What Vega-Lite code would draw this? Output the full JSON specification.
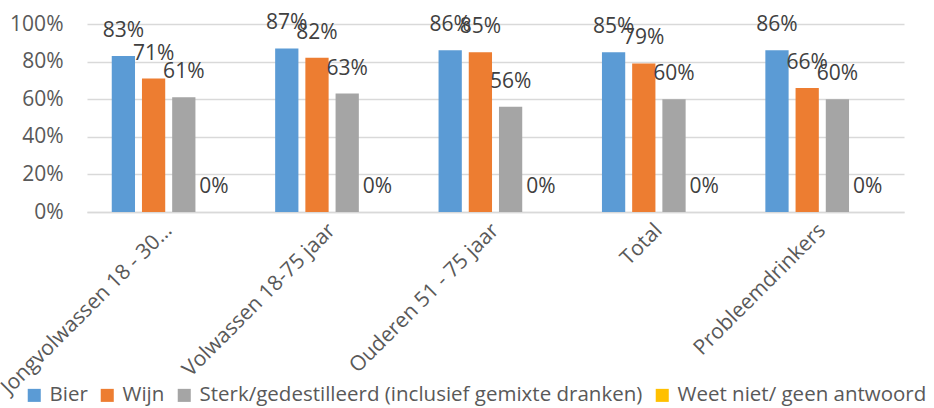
{
  "$schema": "https://vega.github.io/schema/vega-lite/v6.json",
  "width": 817,
  "height": 188,
  "autosize": {"type": "none"},
  "padding": {"left": 87, "top": 24, "right": 30, "bottom": 196},
  "background": "white",
  "config": {
    "view": {"stroke": null},
    "font": "Open Sans",
    "axis": {"labelFont": "Open Sans", "labelColor": "#595959", "labelFontSize": 21},
    "legend": {"labelFont": "Open Sans"}
  },
  "data": {
    "values": [
      {"group": "Jongvolwassen 18 - 30…", "series": "Bier", "value": 0.83},
      {"group": "Jongvolwassen 18 - 30…", "series": "Wijn", "value": 0.71},
      {"group": "Jongvolwassen 18 - 30…", "series": "Sterk/gedestilleerd (inclusief gemixte dranken)", "value": 0.61},
      {"group": "Jongvolwassen 18 - 30…", "series": "Weet niet/ geen antwoord", "value": 0},
      {"group": "Volwassen 18-75 jaar", "series": "Bier", "value": 0.87},
      {"group": "Volwassen 18-75 jaar", "series": "Wijn", "value": 0.82},
      {"group": "Volwassen 18-75 jaar", "series": "Sterk/gedestilleerd (inclusief gemixte dranken)", "value": 0.63},
      {"group": "Volwassen 18-75 jaar", "series": "Weet niet/ geen antwoord", "value": 0},
      {"group": "Ouderen 51 - 75 jaar", "series": "Bier", "value": 0.86},
      {"group": "Ouderen 51 - 75 jaar", "series": "Wijn", "value": 0.85},
      {"group": "Ouderen 51 - 75 jaar", "series": "Sterk/gedestilleerd (inclusief gemixte dranken)", "value": 0.56},
      {"group": "Ouderen 51 - 75 jaar", "series": "Weet niet/ geen antwoord", "value": 0},
      {"group": "Total", "series": "Bier", "value": 0.85},
      {"group": "Total", "series": "Wijn", "value": 0.79},
      {"group": "Total", "series": "Sterk/gedestilleerd (inclusief gemixte dranken)", "value": 0.60},
      {"group": "Total", "series": "Weet niet/ geen antwoord", "value": 0},
      {"group": "Probleemdrinkers", "series": "Bier", "value": 0.86},
      {"group": "Probleemdrinkers", "series": "Wijn", "value": 0.66},
      {"group": "Probleemdrinkers", "series": "Sterk/gedestilleerd (inclusief gemixte dranken)", "value": 0.60},
      {"group": "Probleemdrinkers", "series": "Weet niet/ geen antwoord", "value": 0}
    ]
  },
  "encoding": {
    "x": {
      "field": "group", "type": "nominal", "sort": null,
      "scale": {"paddingInner": 0.266, "paddingOuter": 0.133},
      "axis": {
        "title": null, "labelAngle": -45, "labelAlign": "right", "labelBaseline": "middle",
        "labelPadding": 15, "ticks": false, "domainColor": "#D9D9D9", "domainWidth": 1.5,
        "labelOverlap": false, "labelLimit": 400, "grid": false
      }
    },
    "xOffset": {
      "field": "series", "type": "nominal", "sort": null,
      "scale": {"paddingInner": 0.23, "paddingOuter": 0.1}
    },
    "y": {
      "field": "value", "type": "quantitative",
      "scale": {"domain": [0, 1], "nice": false},
      "axis": {
        "title": null, "format": ".0%", "values": [0, 0.2, 0.4, 0.6, 0.8, 1],
        "ticks": false, "domain": false, "labelPadding": 24,
        "gridColor": "#D9D9D9", "gridWidth": 1.5
      }
    }
  },
  "layer": [
    {
      "mark": {"type": "bar"},
      "encoding": {
        "color": {
          "field": "series", "type": "nominal", "sort": null,
          "scale": {
            "domain": ["Bier", "Wijn", "Sterk/gedestilleerd (inclusief gemixte dranken)", "Weet niet/ geen antwoord"],
            "range": ["#5B9BD5", "#ED7D31", "#A5A5A5", "#FFC000"]
          },
          "legend": {
            "title": null, "orient": "none", "legendX": -63, "legendY": 361,
            "direction": "horizontal", "columns": 4, "symbolType": "square", "symbolSize": 170,
            "symbolStrokeWidth": 0, "labelFontSize": 20.5, "labelColor": "#595959",
            "columnPadding": 9, "labelOffset": 5, "labelLimit": 600
          }
        }
      }
    },
    {
      "mark": {"type": "text", "dy": -25, "fontSize": 21, "color": "#404040", "baseline": "middle"},
      "encoding": {
        "text": {"field": "value", "type": "quantitative", "format": ".0%"}
      }
    }
  ]
}
